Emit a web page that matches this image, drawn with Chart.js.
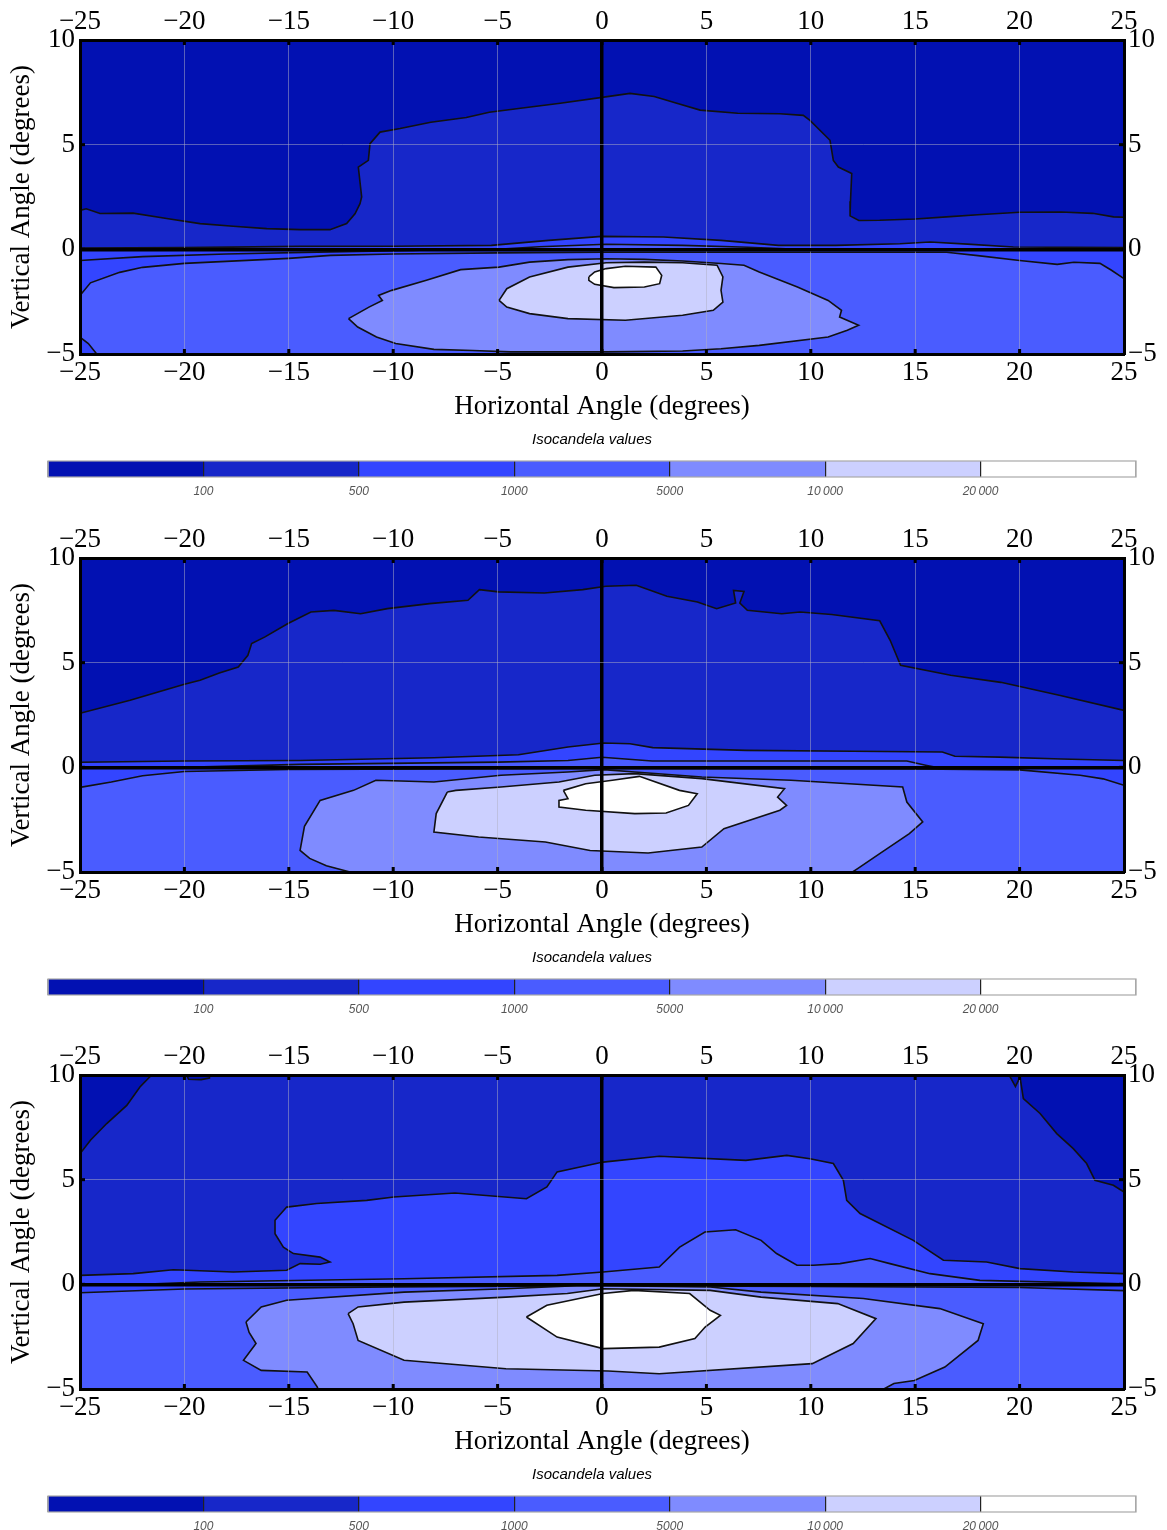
<!DOCTYPE html>
<html><head><meta charset="utf-8">
<script src="https://cdn.jsdelivr.net/npm/chart.js@4/dist/chart.umd.min.js"></script>
<style>
html,body{margin:0;padding:0;background:#fff;}
#wrap{position:relative;width:1167px;height:1530px;}
canvas{position:absolute;left:0;}
</style></head><body><div id="wrap"></div>
<script>
// ---------- axes / legend ----------
const X_TICKS = [-25,-20,-15,-10,-5,0,5,10,15,20,25];
const Y_TICKS = [-5,0,5,10];
const X_TITLE = 'Horizontal Angle (degrees)';
const Y_TITLE = 'Vertical Angle (degrees)';
const LEGEND_TITLE = 'Isocandela values';
const LEVEL_LABELS = ['100','500','1000','5000','10\u2009000','20\u2009000'];
const LEVEL_COLORS = ['#0211b2','#1727c9','#3345ff','#4a5cff','#7f8bff','#ccd0ff','#ffffff'];

// ---------- panel 1 contours (x deg, y deg) ----------
const p1BgAbove = [[-25,0],[-25,10],[25,10],[25,0]];
const p1BgBelow = [[-25,-5],[-25,0],[25,0],[25,-5]];
const p1L1 = [[-25,0],[-25,1.86],[-24.7,1.94],[-24.04,1.71],[-22.46,1.73],[-20.85,1.47],[-19.25,1.23],[-17.66,1.1],[-16.06,0.99],[-14.46,0.94],[-13.03,0.94],[-12.23,1.23],[-11.83,1.7],[-11.59,2.18],[-11.51,2.5],[-11.67,3.93],[-11.19,4.25],[-11.11,5.05],[-10.63,5.6],[-9.67,5.77],[-8.2,6.07],[-6.5,6.3],[-5.4,6.55],[-3.9,6.74],[-2,6.98],[0,7.26],[1.34,7.45],[2.5,7.3],[3.5,7.0],[4.7,6.65],[6.5,6.5],[8.52,6.48],[9.64,6.4],[9.96,6.16],[10.92,5.21],[11.08,4.25],[11.32,3.93],[11.96,3.62],[11.9,2.3],[11.88,1.6],[12.3,1.38],[13.3,1.39],[15,1.45],[16.5,1.55],[18,1.65],[20,1.77],[22,1.78],[23.5,1.72],[24.5,1.55],[25,1.53],[25,0]];
const p1L2a = [[-25,0],[-25,0.06],[-20,0.08],[-14.46,0.14],[-10,0.15],[-5.3,0.19],[-2.55,0.43],[0,0.62],[2.95,0.59],[5.7,0.43],[8.45,0.19],[11.2,0.19],[14.27,0.27],[15.71,0.35],[17.5,0.25],[19.7,0.11],[25,0.08],[25,0]];
const p1L3a = [[-5,0],[-3,0.12],[0.2,0.24],[3.86,0.19],[7,0.1],[9.4,0]];
const p1L2b = [[-25,0],[-25,-0.53],[-22,-0.35],[-18,-0.22],[-13,-0.12],[-9,-0.05],[-8,0]];
const p1L3b = [[-25,-2.2],[-24.5,-1.6],[-23.1,-1.1],[-22,-0.86],[-20,-0.67],[-17.5,-0.55],[-15,-0.43],[-13,-0.29],[-10,-0.22],[-5,-0.17],[0,-0.14],[5,-0.14],[10,-0.14],[16.5,-0.14],[18,-0.3],[20,-0.53],[21.8,-0.72],[22.6,-0.62],[23.85,-0.67],[24.4,-1.0],[25,-1.4],[25,-5],[-24.2,-5],[-24.6,-4.5],[-25,-4.2]];
const p1L4 = [[-12.14,-3.31],[-11.16,-2.76],[-10.52,-2.44],[-10.7,-2.2],[-10.07,-1.96],[-8.41,-1.48],[-6.77,-0.97],[-4.93,-0.85],[-3.47,-0.61],[-1.63,-0.49],[0.2,-0.45],[2.03,-0.48],[3.86,-0.56],[5.7,-0.68],[6.8,-0.76],[7.53,-1.08],[9.36,-1.8],[10.83,-2.44],[11.47,-2.91],[11.38,-3.23],[12.29,-3.63],[11.75,-3.87],[10.83,-4.19],[7.53,-4.59],[5.7,-4.75],[3.86,-4.86],[0.2,-4.9],[-4.38,-4.9],[-6.2,-4.83],[-8.05,-4.78],[-9.88,-4.5],[-10.8,-4.19],[-11.7,-3.71]];
const p1L5 = [[-4.93,-2.44],[-4.56,-1.88],[-3.47,-1.32],[-1.63,-0.85],[0.2,-0.64],[2.03,-0.61],[3.86,-0.64],[5.51,-0.76],[5.79,-1.32],[5.7,-1.96],[5.79,-2.52],[5.33,-2.91],[3.86,-3.15],[1.12,-3.39],[-1.63,-3.31],[-3.47,-3.07],[-4.56,-2.76]];
const p1L6 = [[-0.63,-1.32],[-0.35,-1.08],[0.2,-0.92],[1.12,-0.81],[2.58,-0.85],[2.86,-1.24],[2.76,-1.64],[2.03,-1.8],[0.57,-1.83],[-0.35,-1.67],[-0.63,-1.48]];

// ---------- panel 2 contours ----------
const p2BgAbove = [[-25,0],[-25,10],[25,10],[25,0]];
const p2BgBelow = [[-25,-5],[-25,0],[25,0],[25,-5]];
const p2L1 = [[-25,0],[-25,2.58],[-22.6,3.2],[-20,3.97],[-19.25,4.16],[-18.33,4.51],[-17.42,4.79],[-16.96,5.35],[-16.78,5.91],[-16.14,6.23],[-15.04,6.87],[-13.94,7.42],[-12.84,7.5],[-11.56,7.34],[-10.28,7.58],[-8.26,7.82],[-6.42,7.98],[-5.87,8.49],[-4.96,8.38],[-2.76,8.33],[-0.92,8.49],[0.18,8.65],[1.64,8.7],[3.11,8.17],[4.57,7.9],[5.49,7.58],[6.4,7.85],[6.3,8.45],[6.8,8.4],[6.6,7.85],[6.96,7.5],[8.61,7.34],[9.48,7.42],[11,7.3],[13.3,7.0],[13.8,6.07],[14.3,4.87],[16.7,4.4],[19.1,4.06],[21.9,3.44],[25,2.72],[25,0]];
const p2L2a = [[-25,0],[-25,0.24],[-20,0.3],[-14.46,0.33],[-8.05,0.46],[-4,0.6],[-1.63,0.97],[0.08,1.16],[1.34,1.13],[2.43,0.94],[6.9,0.81],[12,0.77],[16.3,0.73],[16.9,0.53],[19.06,0.49],[22,0.4],[25,0.33],[25,0]];
const p2L3a = [[-20,0],[-14.46,0.14],[-5,0.25],[-1.63,0.33],[0,0.48],[2.4,0.3],[14.6,0.3],[15.5,0.1],[16,0]];
const p2L3b = [[-25,-0.96],[-23.5,-0.7],[-22,-0.4],[-20,-0.2],[-15,-0.1],[0,-0.05],[15,-0.08],[20,-0.12],[22.9,-0.38],[24,-0.55],[25,-0.86],[25,-5],[-25,-5]];
const p2L4 = [[-12.07,-5],[-13.2,-4.7],[-14,-4.35],[-14.46,-3.97],[-14.25,-2.82],[-13.5,-1.58],[-11.9,-1.1],[-10.83,-0.62],[-8.05,-0.7],[-4.84,-0.38],[-1.63,-0.22],[0.08,-0.11],[1.57,-0.22],[4.78,-0.46],[9.05,-0.62],[14.4,-0.94],[14.6,-1.66],[15.36,-2.61],[14.72,-3.17],[13.3,-4.12],[12.26,-4.83],[12,-5]];
const p2L5 = [[-7.41,-1.18],[-7,-1.1],[-4.84,-0.94],[-2.06,-0.7],[-0.35,-0.38],[1.57,-0.3],[4.78,-0.54],[8.74,-1.02],[8.41,-1.42],[8.84,-1.82],[8.52,-2.05],[5.84,-2.93],[4.78,-3.81],[2.21,-4.09],[-0.57,-3.97],[-2.71,-3.57],[-5.91,-3.33],[-8.05,-3.09],[-7.94,-2.21]];
const p2L6 = [[-1.85,-1.1],[-0.78,-0.78],[0.5,-0.62],[1.79,-0.43],[3.71,-1.1],[4.56,-1.26],[4.14,-1.82],[3.07,-2.18],[1.57,-2.21],[-0.78,-2.05],[-2.06,-1.9],[-2.06,-1.58],[-1.63,-1.5]];

// ---------- panel 3 contours ----------
const p3BgAbove = [[-25,0],[-25,10],[25,10],[25,0]];
const p3BgBelow = [[-25,-5],[-25,0],[25,0],[25,-5]];
const p3L0a = [[-25,10],[-21.57,10],[-22.13,9.43],[-22.76,8.55],[-23.72,7.68],[-24.5,6.88],[-25,6.24]];
const p3L0b = [[19.5,10],[19.8,9.45],[20.02,9.9],[20.18,8.87],[20.98,8.16],[21.78,7.2],[22.57,6.48],[23.21,5.77],[23.61,4.97],[24.49,4.73],[25,4.41],[25,10]];
const p3L0c = [[-19.9,10],[-19.8,9.8],[-19.2,9.78],[-18.8,9.85],[-18.8,10]];
const p3L2a = [[-25,0],[-25,0.43],[-22.45,0.51],[-20.53,0.7],[-17.66,0.59],[-15.1,0.67],[-14.46,0.99],[-13.5,0.96],[-13.03,1.07],[-13.5,1.3],[-14.78,1.47],[-15.26,1.78],[-15.66,2.42],[-15.66,3.06],[-15.1,3.69],[-13.66,3.86],[-11.27,4.01],[-9.97,4.17],[-7.04,4.36],[-3.62,4.09],[-2.64,4.65],[-2.15,5.37],[0.05,5.84],[2.74,6.12],[6.89,5.92],[8.85,6.16],[9.96,6.0],[11.08,5.77],[11.56,4.97],[11.72,4.01],[12.36,3.38],[14.91,2.1],[16.35,1.15],[18.42,1.07],[20.02,0.75],[22.57,0.59],[24.97,0.51],[25,0.5],[25,0]];
const p3L3a = [[-22,0],[-19.25,0.11],[-9.48,0.27],[-2.15,0.43],[0.05,0.59],[2.74,0.83],[3.72,1.78],[4.93,2.5],[6.4,2.61],[7.62,2.1],[8.36,1.47],[9.34,0.91],[10.12,0.91],[11.4,0.99],[12.84,1.23],[13.79,0.99],[15.71,0.51],[18.1,0.19],[25,0.03],[25,0]];
const p3L3b = [[-25,-0.4],[-20,-0.22],[-10,-0.12],[0,-0.06],[10,-0.1],[20,-0.15],[25,-0.3],[25,-5],[-25,-5]];
const p3L4 = [[-17.05,-1.8],[-16.32,-1.08],[-15.1,-0.76],[-9.48,-0.37],[-4.6,-0.21],[-0.92,-0.05],[5.18,-0.13],[7.62,-0.37],[12.51,-0.68],[16.18,-1.16],[18.26,-1.88],[18.01,-2.68],[16.42,-3.95],[14.96,-4.59],[13.98,-4.74],[13.5,-5],[-13.6,-5],[-13.64,-4.9],[-14.12,-4.19],[-16.32,-4.11],[-17.17,-3.63],[-16.57,-2.83],[-16.9,-2.3]];
const p3L5 = [[-12.16,-1.4],[-11.68,-1.08],[-9.48,-0.85],[-4.6,-0.61],[-1.66,-0.44],[0.05,-0.21],[5.18,-0.29],[7.62,-0.61],[11.29,-0.92],[13.12,-1.64],[12.03,-2.83],[10.07,-3.79],[2.74,-4.27],[0.3,-4.14],[-4.6,-4.03],[-9.48,-3.63],[-11.68,-2.68],[-11.92,-1.88]];
const p3L6 = [[-3.62,-1.56],[-2.64,-1.0],[0.05,-0.44],[1.52,-0.29],[4.2,-0.44],[5.18,-1.24],[5.67,-1.48],[4.94,-2.04],[4.45,-2.59],[2.74,-3.0],[0.05,-3.07],[-2.15,-2.52]];

// ---------- panel composition (level index, outline?) ----------
const PANELS = [
  {top:0, regions:[[p1BgAbove,0,false],[p1L1,1,true],[p1L2a,2,true],[p1L3a,3,true],[p1BgBelow,2,false],[p1L2b,2,true],[p1L3b,3,true],[p1L4,4,true],[p1L5,5,true],[p1L6,6,true]]},
  {top:518, regions:[[p2BgAbove,0,false],[p2L1,1,true],[p2L2a,2,true],[p2L3a,3,true],[p2BgBelow,2,false],[p2L3b,3,true],[p2L4,4,true],[p2L5,5,true],[p2L6,6,true]]},
  {top:1035, regions:[[p3BgAbove,1,false],[p3L0a,0,true],[p3L0b,0,true],[p3L0c,0,true],[p3L2a,2,true],[p3L3a,3,true],[p3BgBelow,2,false],[p3L3b,3,true],[p3L4,4,true],[p3L5,5,true],[p3L6,6,true]]}
];

const SERIF = 'Liberation Serif';
const fmt = v => v < 0 ? '\u2212' + Math.abs(v) : String(v);
const tickFont = {family: SERIF, size: 27};

const innerTicks = {
  id: 'innerTicks',
  afterDraw(chart) {
    const {ctx, chartArea: a, scales} = chart;
    ctx.save();
    ctx.strokeStyle = '#000';
    ctx.lineWidth = 3;
    const seg = (x1,y1,x2,y2)=>{ctx.beginPath();ctx.moveTo(x1,y1);ctx.lineTo(x2,y2);ctx.stroke();};
    X_TICKS.forEach(v => {
      if (v <= -25 || v >= 25) return;
      const px = scales.x.getPixelForValue(v);
      seg(px, a.bottom, px, a.bottom - 5);
      seg(px, a.top, px, a.top + 5);
    });
    Y_TICKS.forEach(v => {
      if (v <= -5 || v >= 10) return;
      const py = scales.y.getPixelForValue(v);
      seg(a.left, py, a.left + 5, py);
      seg(a.right, py, a.right - 5, py);
    });
    ctx.restore();
  }
};

const wrap = document.getElementById('wrap');
function makeCanvas(top, h) {
  const c = document.createElement('canvas');
  c.width = 1167; c.height = h;
  c.style.top = top + 'px';
  c.style.width = '1167px'; c.style.height = h + 'px';
  wrap.appendChild(c);
  return c;
}

const gridColor = ctx => (ctx.tick && ctx.tick.value === 0) ? '#000' : 'rgba(175,175,195,0.5)';
const gridWidth = ctx => (ctx.tick && ctx.tick.value === 0) ? 3.5 : 1;

PANELS.forEach(panel => {
  const n = panel.regions.length;
  const datasets = panel.regions.map((r, i) => {
    const pts = r[0].map(p => ({x: p[0], y: p[1]}));
    pts.push({x: r[0][0][0], y: r[0][0][1]});
    return {
      data: pts,
      showLine: true,
      fill: 'shape',
      backgroundColor: LEVEL_COLORS[r[1]],
      borderColor: r[2] ? '#111' : 'rgba(0,0,0,0)',
      borderWidth: r[2] ? 1.6 : 0,
      pointRadius: 0,
      tension: 0,
      order: n - i
    };
  });
  const cv = makeCanvas(panel.top, 425);
  new Chart(cv, {
    type: 'scatter',
    data: {datasets},
    options: {
      responsive: false, animation: false, devicePixelRatio: 1,
      layout: {padding: 0},
      plugins: {legend: {display: false}, tooltip: {enabled: false}},
      scales: {
        x: {type: 'linear', position: 'bottom', min: -25, max: 25,
            ticks: {stepSize: 5, autoSkip: false, maxRotation: 0, padding: 3, font: tickFont, color: '#000', callback: fmt},
            grid: {z: 1, drawTicks: false, color: gridColor, lineWidth: gridWidth},
            border: {z: 2, color: '#000', width: 3},
            title: {display: true, text: X_TITLE, font: tickFont, color: '#000', padding: {top: 0, bottom: 2}},
            afterFit: s => { s.height = 71; }},
        x2: {type: 'linear', position: 'top', min: -25, max: 25,
            ticks: {stepSize: 5, autoSkip: false, maxRotation: 0, padding: 2, font: tickFont, color: '#000', callback: fmt},
            grid: {display: false, drawTicks: false},
            border: {z: 2, color: '#000', width: 3},
            afterFit: s => { s.height = 40; }},
        y: {type: 'linear', position: 'left', min: -5, max: 10,
            ticks: {stepSize: 5, autoSkip: false, padding: 5, font: tickFont, color: '#000', callback: fmt},
            grid: {z: 1, drawTicks: false, color: gridColor, lineWidth: gridWidth},
            border: {z: 2, color: '#000', width: 3},
            title: {display: true, text: Y_TITLE, font: tickFont, color: '#000', padding: {top: 6, bottom: 0}},
            afterFit: s => { s.width = 80; }},
        y2: {type: 'linear', position: 'right', min: -5, max: 10,
            ticks: {stepSize: 5, autoSkip: false, padding: 4, font: tickFont, color: '#000', callback: fmt},
            grid: {display: false, drawTicks: false},
            border: {z: 2, color: '#000', width: 3},
            afterFit: s => { s.width = 43; }}
      }
    },
    plugins: [innerTicks]
  });

  // colour bar legend
  const cb = makeCanvas(panel.top + 425, 80);
  const cbFrame = {
    id: 'cbFrame',
    afterDraw(chart) {
      const {ctx, chartArea: a} = chart;
      ctx.save(); ctx.strokeStyle = '#a8a8a8'; ctx.lineWidth = 1.2;
      ctx.strokeRect(a.left, a.top, a.right - a.left, a.bottom - a.top);
      ctx.restore();
    }
  };
  new Chart(cb, {
    type: 'bar',
    data: {labels: [''], datasets: LEVEL_COLORS.map(c => ({data: [1], backgroundColor: c, borderWidth: 0}))},
    options: {
      indexAxis: 'y', responsive: false, animation: false, devicePixelRatio: 1,
      layout: {padding: {left: 48, right: 31, top: 0, bottom: 0}},
      datasets: {bar: {barPercentage: 1, categoryPercentage: 1}},
      plugins: {
        legend: {display: false}, tooltip: {enabled: false},
        title: {display: true, text: LEGEND_TITLE, color: '#000',
                font: {family: 'Liberation Sans', size: 15, style: 'italic', weight: 'normal'},
                padding: {top: 6, bottom: 12}}
      },
      scales: {
        x: {type: 'linear', stacked: true, min: 0, max: LEVEL_COLORS.length,
            ticks: {stepSize: 1, autoSkip: false, maxRotation: 0, padding: 7, color: '#555',
                    font: {family: 'Liberation Sans', size: 12, style: 'italic'},
                    callback: v => (v > 0 && v < LEVEL_COLORS.length) ? LEVEL_LABELS[v - 1] : ''},
            grid: {z: 1, drawTicks: false, color: c => (c.tick && (c.tick.value === 0 || c.tick.value === LEVEL_COLORS.length)) ? '#a8a8a8' : '#222', lineWidth: 1.2},
            border: {display: false},
            afterFit: s => { s.height = 28; }},
        y: {stacked: true, display: false}
      }
    },
    plugins: [cbFrame]
  });
});
</script></body></html>
